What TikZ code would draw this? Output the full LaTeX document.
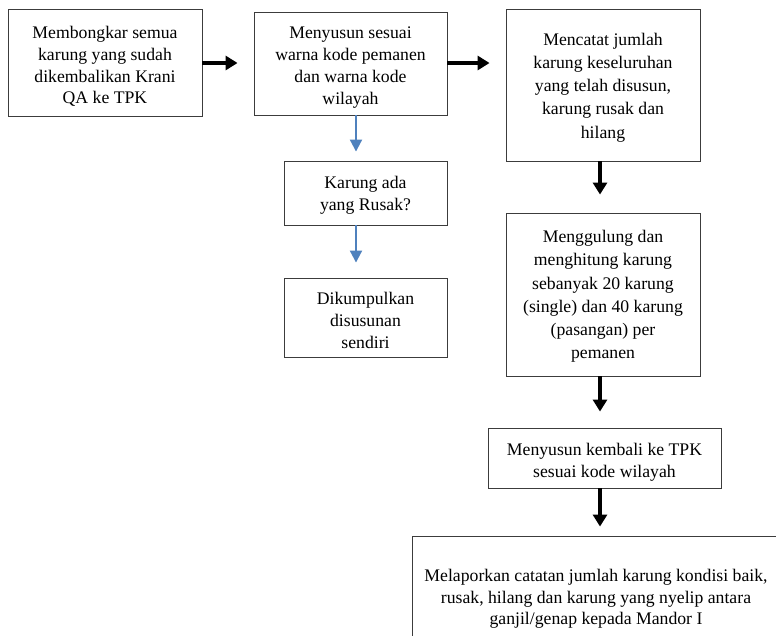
\documentclass[tikz,border=0pt]{standalone}
\usepackage{fontspec}
\setmainfont{Liberation Serif}
\usetikzlibrary{arrows.meta}
\definecolor{arrowblue}{RGB}{79,129,189}
\definecolor{boxline}{RGB}{60,60,60}
\begin{document}
\begin{tikzpicture}[x=1pt,y=-1pt,
  box/.style={draw=boxline, line width=0.9pt, inner sep=0pt},
  txt/.style={align=center, inner sep=0pt, font=\fontsize{17.7}{21.7}\selectfont},
  widetxt/.style={txt, font=\fontsize{17.7}{23.2}\selectfont},
  bigarrow/.style={line width=4.2pt, -{Triangle[width=14pt,length=12pt]}},
  bluearrow/.style={draw=arrowblue, line width=2pt, -{Triangle[width=12pt,length=12pt]}, arrowblue}]
\clip (0,0) rectangle (776,635);
\node[box, minimum width=194pt, minimum height=107pt] (b1) at (105,62.5) {};
\node[txt, yshift=-4pt] (t1) at (b1)
  {Membongkar semua\\karung yang sudah\\dikembalikan Krani\\QA ke TPK};
\node[box, minimum width=193pt, minimum height=103pt] (b2) at (350.5,63.5) {};
\node[txt, yshift=-4pt] (t2) at (b2)
  {Menyusun sesuai\\warna kode pemanen\\dan warna kode\\wilayah};
\node[box, minimum width=194pt, minimum height=152pt] (b3) at (603,85) {};
\node[widetxt, yshift=-2.5pt] (t3) at (b3)
  {Mencatat jumlah\\karung keseluruhan\\yang telah disusun,\\karung rusak dan\\hilang};
\node[box, minimum width=194pt, minimum height=163pt] (b4) at (603,294.5) {};
\node[widetxt, yshift=-2pt] (t4) at (b4)
  {Menggulung dan\\menghitung karung\\sebanyak 20 karung\\(single) dan 40 karung\\(pasangan) per\\pemanen};
\node[box, minimum width=233pt, minimum height=60pt] (b5) at (604.5,458) {};
\node[txt, yshift=-4pt] (t5) at (b5)
  {Menyusun kembali ke TPK\\sesuai kode wilayah};
\node[box, minimum width=368pt, minimum height=122pt] (b6) at (596,597) {};
\node[txt, yshift=-2pt] (t6) at (b6)
  {Melaporkan catatan jumlah karung kondisi baik,\\rusak, hilang dan karung yang nyelip antara\\ganjil/genap kepada Mandor I};
\node[box, minimum width=163pt, minimum height=64pt] (k) at (365.5,193) {};
\node[txt, yshift=-2pt] (tk) at (k) {Karung ada\\yang Rusak?};
\node[box, minimum width=163pt, minimum height=79pt] (d) at (365.5,317.5) {};
\node[txt, yshift=-3pt] (td) at (d) {Dikumpulkan\\disusunan\\sendiri};
\draw[bigarrow, shorten >=16pt] (b1.east |- 0,63) -- (b2.west |- 0,63);
\draw[bigarrow, shorten >=16pt] (b2.east |- 0,63) -- (b3.west |- 0,63);
\draw[bigarrow, shorten >=18pt] ([xshift=-3pt]b3.south) -- ([xshift=-3pt]b4.north);
\draw[bigarrow, shorten >=16pt] ([xshift=-3pt]b4.south) -- ([xshift=-4.5pt]b5.north);
\draw[bigarrow, shorten >=9pt] ([xshift=-4.5pt]b5.south) -- ([xshift=4pt]b6.north);
\draw[bluearrow, shorten >=9pt] ([xshift=5.5pt]b2.south) -- ([xshift=-9.5pt]k.north);
\draw[bluearrow, shorten >=15pt] ([xshift=-9.5pt]k.south) -- ([xshift=-9.5pt]d.north);
\end{tikzpicture}
\end{document}
